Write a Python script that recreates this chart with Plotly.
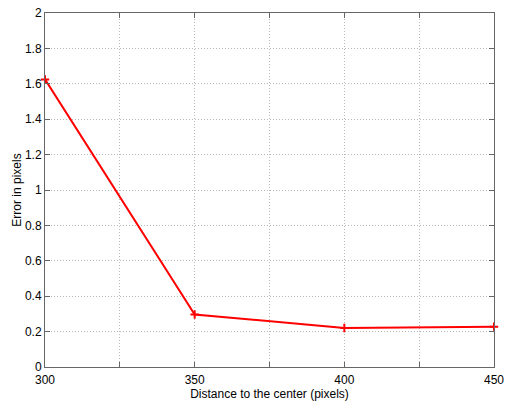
import plotly.graph_objects as go

distance = [300, 350, 400, 450]
error_px = [1.625, 0.297, 0.22, 0.228]

x_tickvals = [300, 325, 350, 375, 400, 425, 450]
x_ticktext = ["300", "", "350", "", "400", "", "450"]
y_tickvals = [0, 0.2, 0.4, 0.6, 0.8, 1, 1.2, 1.4, 1.6, 1.8, 2]
y_ticktext = ["0", "0.2", "0.4", "0.6", "0.8", "1", "1.2", "1.4", "1.6", "1.8", "2"]

fig = go.Figure()
fig.add_trace(go.Scatter(
    x=distance, y=error_px, mode="lines+markers",
    line=dict(color="#ff0000", width=2),
    marker=dict(symbol="cross-thin", size=6, line=dict(color="#ff0000", width=2)),
    showlegend=False, cliponaxis=False,
))

font = dict(family="Liberation Sans, Arial, sans-serif", size=12, color="black")
axis_common = dict(
    showline=True, linecolor="#666666", linewidth=1, mirror="ticks",
    ticks="inside", ticklen=5, tickcolor="#666666",
    showgrid=True, gridcolor="#b8b8b8", griddash="1px,2px", gridwidth=1,
    zeroline=False, automargin=False,
    tickfont=font, title_font=font,
)

fig.update_layout(
    width=512, height=405,
    margin=dict(l=45, r=18, t=13, b=38, autoexpand=False),
    paper_bgcolor="white", plot_bgcolor="white",
    xaxis=dict(range=[300, 450], tickvals=x_tickvals, ticktext=x_ticktext,
               ticklabelstandoff=2,
               title=dict(text="Distance to the center (pixels)", standoff=2), **axis_common),
    yaxis=dict(range=[0, 2], tickvals=y_tickvals, ticktext=y_ticktext,
               title=dict(text="Error in pixels", standoff=0), **axis_common),
)

fig.write_html("out.html", config={"displayModeBar": False},
               post_script="document.body.style.margin='0';")
